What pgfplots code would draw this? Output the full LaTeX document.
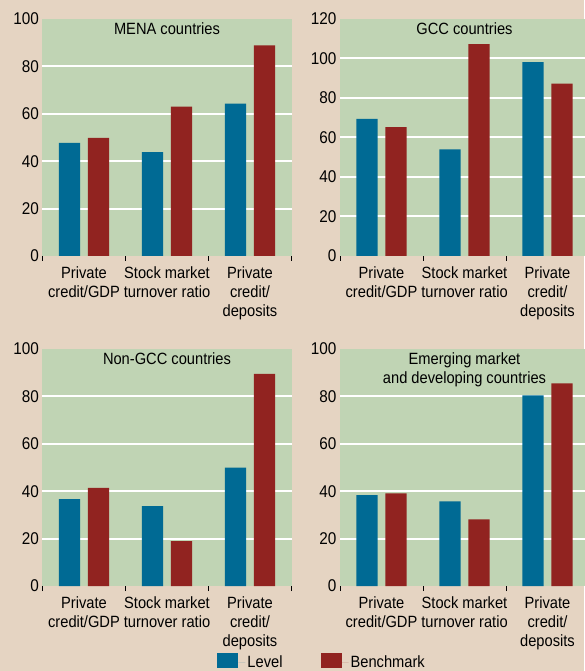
\documentclass[border=0pt]{standalone}
\usepackage{fontspec}
\setmainfont{Liberation Sans}[FakeStretch=0.9]
\usepackage{pgfplots}
\pgfplotsset{compat=1.18}
\definecolor{bg}{HTML}{E5D4C2}
\definecolor{panel}{HTML}{C0D4B4}
\definecolor{lvl}{HTML}{006A94}
\definecolor{bmk}{HTML}{912320}
\newcommand{\fnt}{\fontsize{16.3}{19}\selectfont}
\newcommand{\tfnt}{\fontsize{17}{20}\selectfont}
\pgfplotsset{
  panel/.style={
    scale only axis, width=249pt, height=237pt,
    anchor=south west,
    xmin=-0.5, xmax=2.5, ymin=0,
    axis background/.style={fill=panel},
    axis line style={draw=none},
    xtick={0,1,2},
    xticklabels={{Private\\credit/GDP},{Stock market\\turnover ratio},{Private\\credit/\\deposits}},
    major x tick style={draw=none},
    minor xtick={-0.5,0.5,1.5,2.5},
    minor x tick style={black, line width=0.8pt},
    minor tick length=5pt,
    tick align=inside,
    xtick pos=bottom,
    ytick pos=left,
    ytick style={draw=none},
    xticklabel style={align=center, font=\fnt, yshift=-2.5pt, inner xsep=1pt},
    yticklabel style={font=\tfnt},
    /pgf/number format/assume math mode=true,
    ybar, bar width=0.254,
    title style={at={(0.5,1)}, anchor=north, font=\fnt, align=center, yshift=-6.5pt},
    extra y tick labels={},
    extra y tick style={grid=major, major grid style={white, line width=2pt}},
    clip=false,
  },
  lvlbar/.style={fill=lvl, draw=none, bar shift=-0.175},
  bmkbar/.style={fill=bmk, draw=none, bar shift=0.175},
}
\begin{document}
\begin{tikzpicture}
\fill[bg] (0,0) rectangle (584pt,671pt);
\path[use as bounding box] (0,0) rectangle (584pt,671pt);

% MENA
\begin{axis}[panel, at={(42.5pt,415pt)}, ymax=100, ytick={0,20,...,100},
  extra y ticks={20,40,60,80}, title={MENA countries}]
\addplot[lvlbar] coordinates {(0,47.7) (1,43.8) (2,64.3)};
\addplot[bmkbar] coordinates {(0,49.8) (1,63.0) (2,88.9)};
\end{axis}

% GCC
\begin{axis}[panel, at={(340pt,415pt)}, ymax=120, ytick={0,20,...,120},
  extra y ticks={20,40,60,80,100}, title={GCC countries}]
\addplot[lvlbar] coordinates {(0,69.4) (1,54.0) (2,98.1)};
\addplot[bmkbar] coordinates {(0,65.3) (1,107.3) (2,87.3)};
\end{axis}

% Non-GCC
\begin{axis}[panel, at={(42.5pt,85pt)}, ymax=100, ytick={0,20,...,100},
  extra y ticks={20,40,60,80}, title={Non-GCC countries},
  legend columns=2,
  legend style={at={(0.702,-0.283)}, anchor=north west, draw=none, fill=none,
    font=\fnt, inner sep=0pt,
    /tikz/every even column/.append style={column sep=36pt}},
  legend image code/.code={\fill[#1] (0pt,-6pt) rectangle (21pt,9pt); \path (21pt,0pt) -- (28pt,0pt);},
  legend cell align=left]
\addplot[lvlbar] coordinates {(0,36.7) (1,33.7) (2,49.9)};
\addplot[bmkbar] coordinates {(0,41.4) (1,18.9) (2,89.5)};
\legend{Level,Benchmark}
\end{axis}

% EMDC
\begin{axis}[panel, at={(340pt,85pt)}, ymax=100, ytick={0,20,...,100},
  extra y ticks={20,40,60,80}, title={Emerging market\\and developing countries}]
\addplot[lvlbar] coordinates {(0,38.3) (1,35.7) (2,80.4)};
\addplot[bmkbar] coordinates {(0,39.1) (1,28.1) (2,85.5)};
\end{axis}
\end{tikzpicture}
\end{document}
